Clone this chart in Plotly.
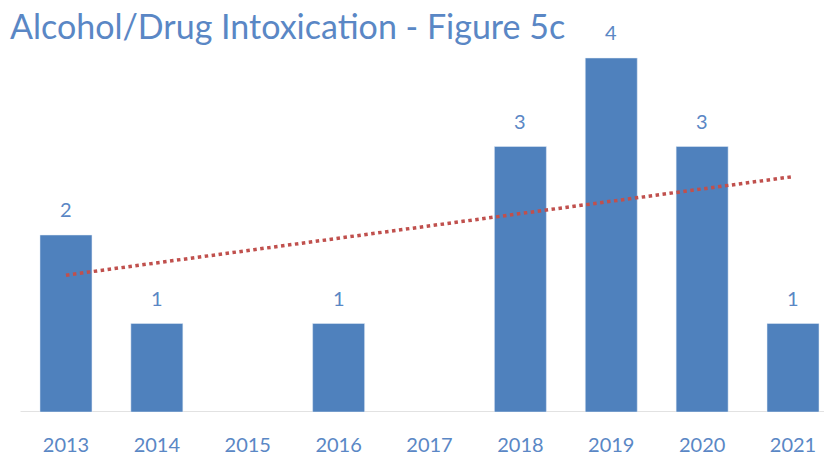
import numpy as np
import plotly.graph_objects as go

years = ["2013", "2014", "2015", "2016", "2017", "2018", "2019", "2020", "2021"]
counts = [2, 1, None, 1, None, 3, 4, 3, 1]

x_idx = list(range(len(years)))
# Excel-style linear trendline (blanks ignored)
xs = np.array([i for i, v in zip(x_idx, counts) if v is not None], dtype=float)
ys = np.array([v for v in counts if v is not None], dtype=float)
slope, intercept = np.polyfit(xs, ys, 1)
trend = [slope * i + intercept for i in x_idx]

bar_color = "#4F81BD"
text_color = "#5A87C5"
font_family = "Lato, 'Open Sans', sans-serif"

fig = go.Figure()
fig.add_trace(go.Bar(
    x=x_idx, y=counts, width=0.572, marker_color=bar_color,
    showlegend=False, hoverinfo="skip",
))
fig.add_trace(go.Scatter(
    x=x_idx, y=trend, mode="lines",
    line=dict(color="#C0504D", width=3.5, dash="dot"),
    showlegend=False, hoverinfo="skip",
))
for i, v in zip(x_idx, counts):
    if v is None:
        continue
    fig.add_annotation(x=i, y=v, text=str(v), showarrow=False,
                       yanchor="middle", yshift=26,
                       font=dict(size=20, color=text_color, family=font_family))

fig.add_shape(type="line", xref="x", yref="y", x0=-0.5, x1=8.6, y0=0, y1=0,
              line=dict(color="#D9D9D9", width=1.5), layer="below")

fig.update_layout(
    width=832, height=457,
    margin=dict(l=0, r=0, t=0, b=53),
    paper_bgcolor="white", plot_bgcolor="white",
    title=dict(text="Alcohol/Drug Intoxication - Figure 5c",
               x=2/832, xanchor="left", xref="paper",
               y=1 - 19/457, yanchor="middle", yref="container",
               font=dict(size=34, color=text_color, family=font_family)),
    xaxis=dict(range=[-0.638, 8.517], tickmode="array", tickvals=x_idx, ticktext=years,
               showgrid=False, zeroline=False, showline=False, ticks="",
               ticklabelstandoff=19,
               tickfont=dict(size=20, color=text_color, family=font_family)),
    yaxis=dict(range=[0, 4.565], visible=False, showgrid=False, zeroline=False),
)
fig.write_html("out.html")
